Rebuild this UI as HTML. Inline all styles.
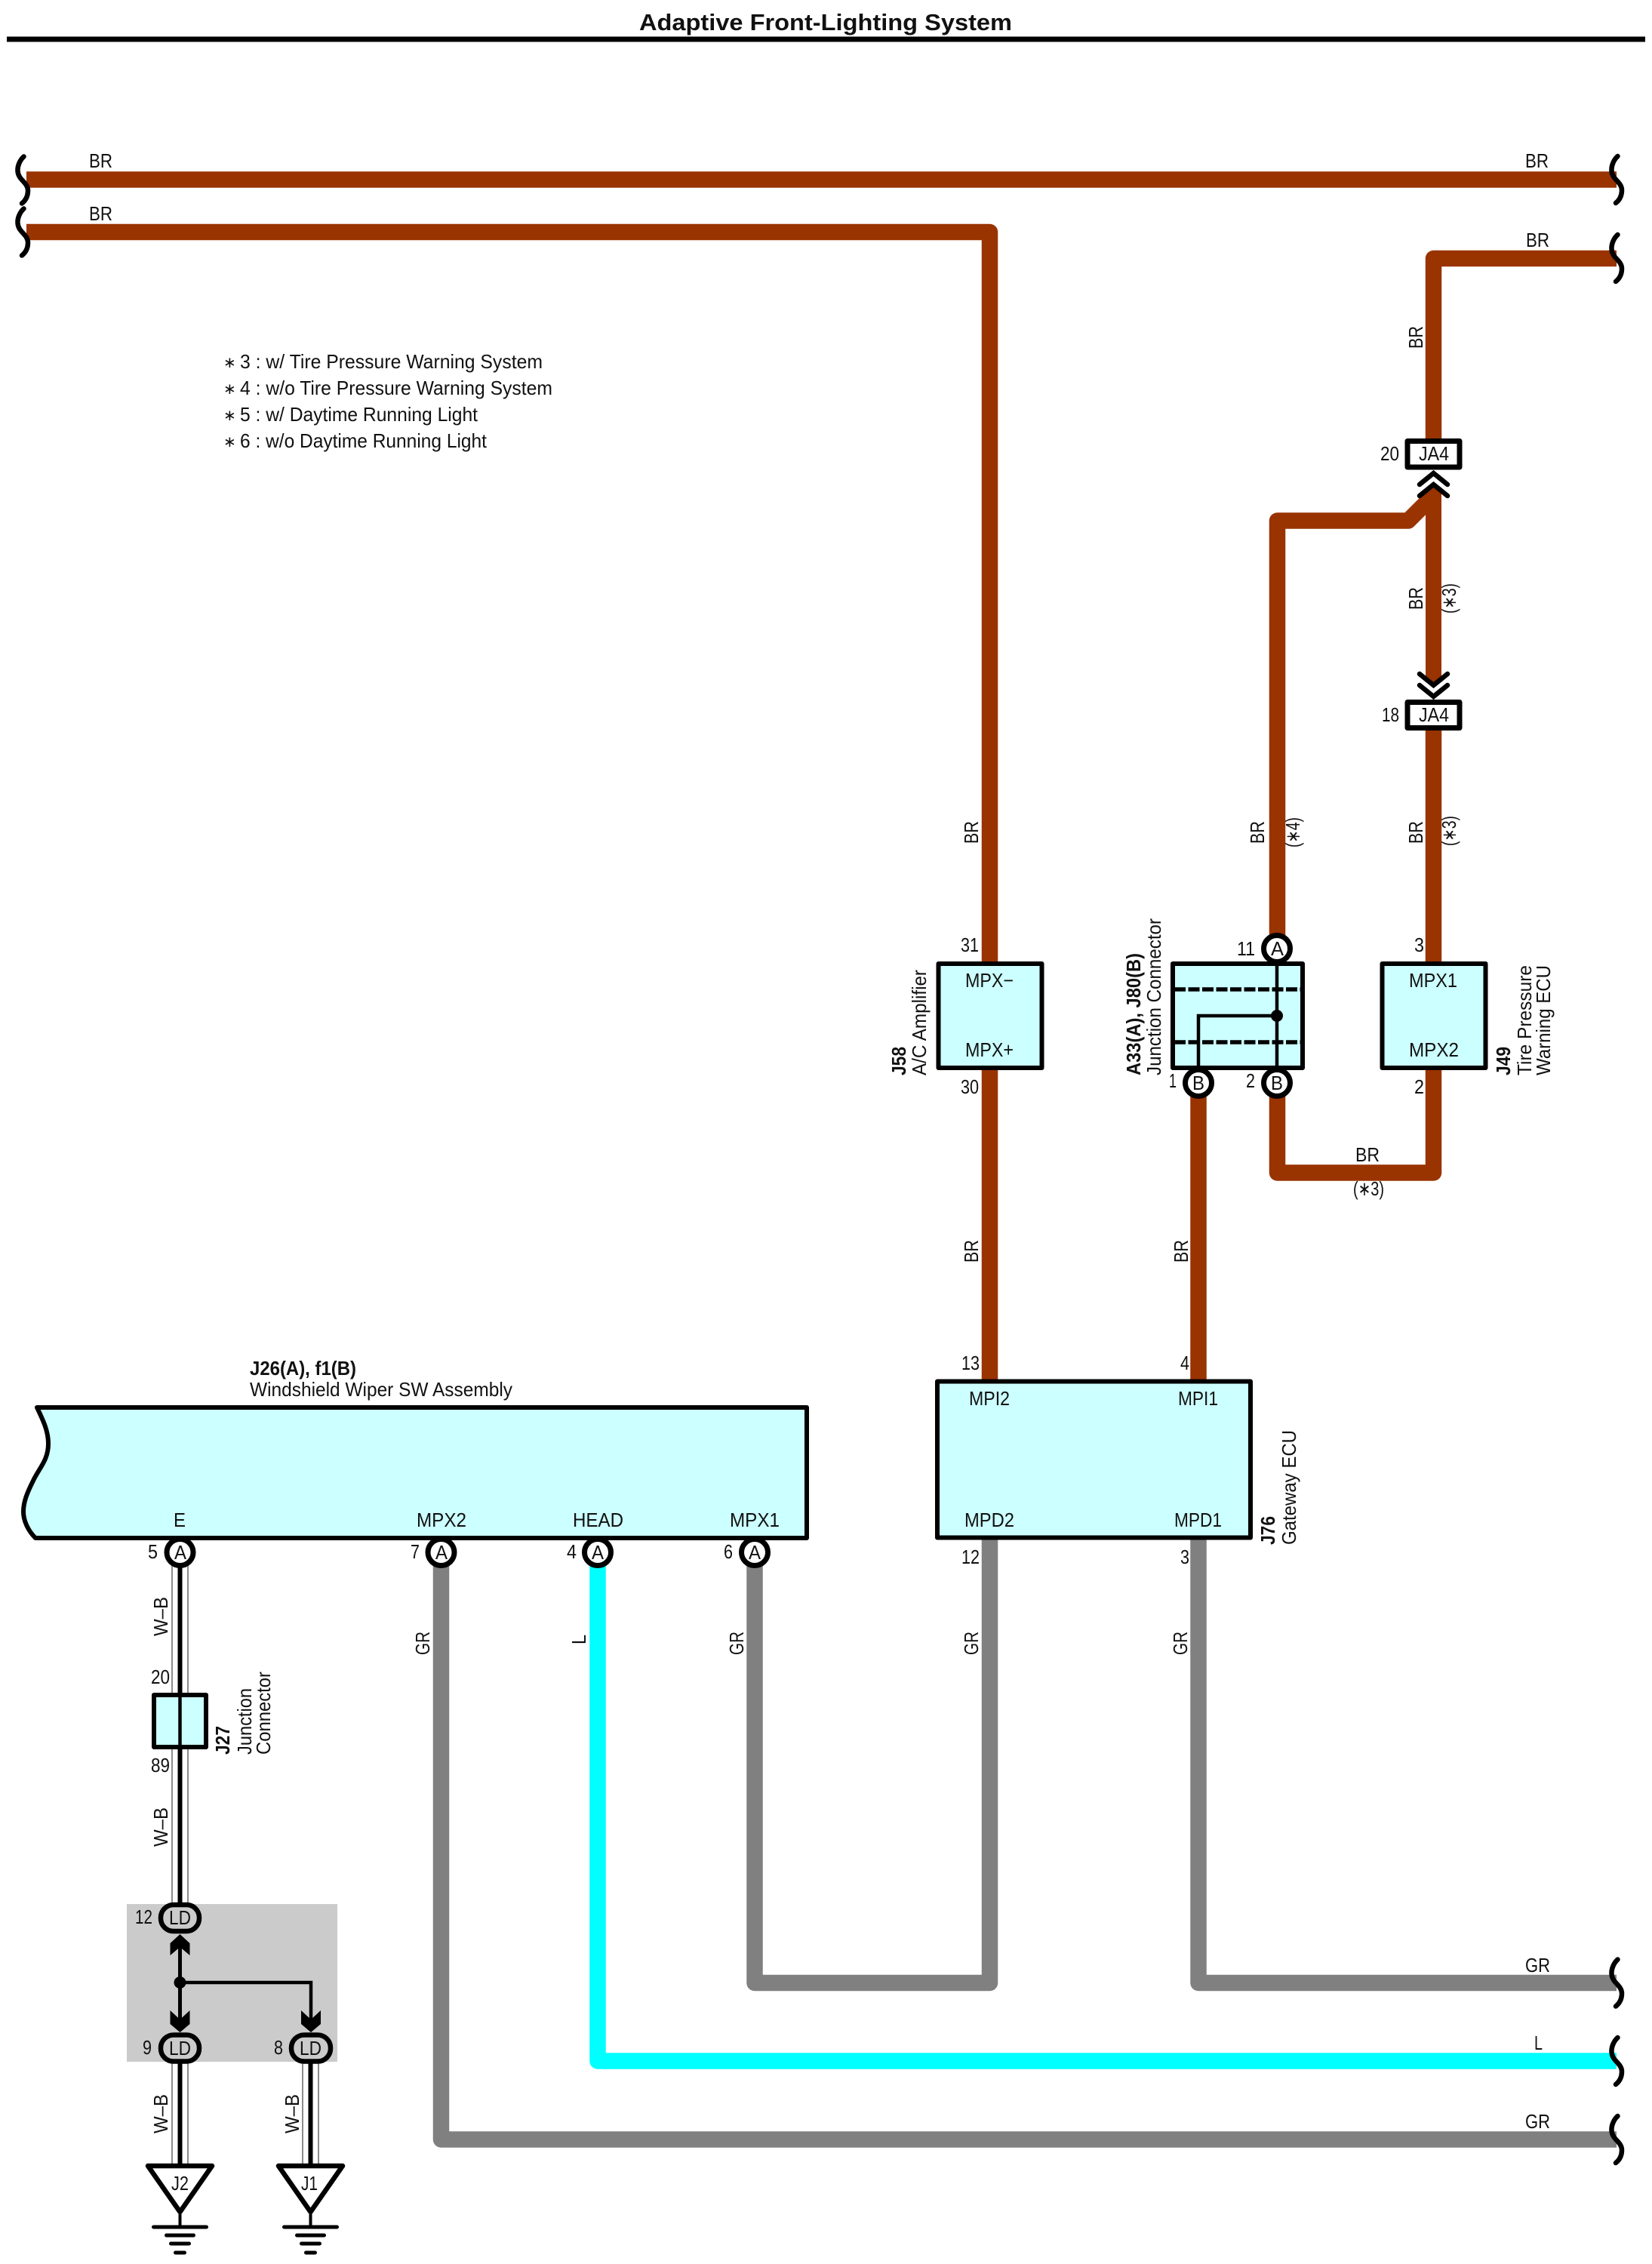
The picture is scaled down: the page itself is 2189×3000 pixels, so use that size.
<!DOCTYPE html>
<html><head><meta charset="utf-8"><title>Adaptive Front-Lighting System</title>
<style>
html,body{margin:0;padding:0;background:#fff}
svg{display:block}
text{font-family:"Liberation Sans",sans-serif;font-size:26px;fill:#111}
.b{font-weight:bold}
.w{fill:none;stroke-width:21.500;stroke-linejoin:round;stroke-linecap:butt}
.br{stroke:#993300}.gr{stroke:#808080}.cy{stroke:#00ffff}
.box{fill:#ccffff;stroke:#000;stroke-width:6;stroke-linejoin:round}
.pin{fill:#fff;stroke:#000;stroke-width:7}
.sq{fill:none;stroke:#000;stroke-width:6.500;stroke-linecap:round}
.bk{fill:none;stroke:#000}
</style></head><body>
<svg xmlns="http://www.w3.org/2000/svg" width="2189" height="3000" viewBox="0 0 2189 3000">
<defs>
<path id="sq" class="sq" d="M1.500,-31 C-4,-26 -7,-18 -6.500,-12 C-6,0 7,3 7,14 C7,21 4,27 -1,31"/>
<g id="gnd">
<path class="bk" stroke-width="4" d="M0,-16V0"/>
<path class="bk" stroke-width="5" stroke-linecap="round" d="M-35,1H35M-18,12H18M-12,23H12M-6,35H6"/>
</g>
</defs>

<!-- title -->
<text class="b" x="847" y="40" style="font-size:31px" textLength="494" lengthAdjust="spacingAndGlyphs">Adaptive Front-Lighting System</text>
<rect x="9" y="48.500" width="2171" height="7" fill="#000"/>

<!-- wires -->
<path class="w br" d="M35,238H2142"/>
<path class="w br" d="M35,307.500H1311.500V1274"/>
<path class="w br" d="M2142,342.500H1899.500V581"/>
<path class="w br" d="M1692.500,1240V690H1866L1897,659"/>
<polygon fill="#993300" points="1889,652 1899.500,642 1910,652 1910,899 1899.500,907 1889,899"/>
<path class="w br" d="M1899.500,965V1274"/>
<path class="w br" d="M1311.500,1418V1828"/>
<path class="w br" d="M1588,1452V1828"/>
<path class="w br" d="M1692.500,1452V1554H1899.500V1418"/>
<path class="w gr" d="M1000,2072V2627.500H1311.500V2040"/>
<path class="w gr" d="M1588,2040V2627.500H2142"/>
<path class="w cy" d="M792,2072V2731H2142"/>
<path class="w gr" d="M584.500,2072V2835H2142"/>

<!-- squiggles -->
<use href="#sq" x="30" y="238.500"/><use href="#sq" x="30" y="307.500"/>
<use href="#sq" x="2142" y="238"/><use href="#sq" x="2142" y="342"/>
<use href="#sq" x="2142" y="2627.500"/><use href="#sq" x="2142" y="2731"/><use href="#sq" x="2142" y="2835"/>

<!-- top labels -->
<text x="118" y="222" textLength="31" lengthAdjust="spacingAndGlyphs">BR</text>
<text x="118" y="292" textLength="31" lengthAdjust="spacingAndGlyphs">BR</text>
<text x="2021" y="222" textLength="31" lengthAdjust="spacingAndGlyphs">BR</text>
<text x="2022" y="327" textLength="31" lengthAdjust="spacingAndGlyphs">BR</text>

<!-- legend -->
<text x="296" y="487" style="font-size:20px">∗</text><text x="318" y="488" textLength="401" lengthAdjust="spacingAndGlyphs">3 : w/ Tire Pressure Warning System</text>
<text x="296" y="522" style="font-size:20px">∗</text><text x="318" y="523" textLength="414" lengthAdjust="spacingAndGlyphs">4 : w/o Tire Pressure Warning System</text>
<text x="296" y="557" style="font-size:20px">∗</text><text x="318" y="558" textLength="315" lengthAdjust="spacingAndGlyphs">5 : w/ Daytime Running Light</text>
<text x="296" y="592" style="font-size:20px">∗</text><text x="318" y="593" textLength="327" lengthAdjust="spacingAndGlyphs">6 : w/o Daytime Running Light</text>

<!-- JA4 connectors -->
<rect x="1865" y="584.500" width="69" height="34.500" fill="#fff" stroke="#000" stroke-width="7" stroke-linejoin="round"/>
<text x="1880" y="610" textLength="40" lengthAdjust="spacingAndGlyphs">JA4</text>
<text x="1829" y="610" textLength="25" lengthAdjust="spacingAndGlyphs">20</text>
<rect x="1865" y="930.500" width="69" height="34" fill="#fff" stroke="#000" stroke-width="7" stroke-linejoin="round"/>
<text x="1880" y="956" textLength="40" lengthAdjust="spacingAndGlyphs">JA4</text>
<text x="1831" y="956" textLength="23" lengthAdjust="spacingAndGlyphs">18</text>
<path class="bk" stroke-width="6.500" stroke-linecap="round" d="M1881,642L1899.500,627L1918,642M1881,657L1899.500,642L1918,657"/>
<path class="bk" stroke-width="6.500" stroke-linecap="round" d="M1881,893L1899.500,908L1918,893M1881,908L1899.500,923L1918,908"/>

<!-- rotated BR labels -->
<text transform="translate(1885,462) rotate(-90)" textLength="30" lengthAdjust="spacingAndGlyphs">BR</text>
<text transform="translate(1885,808) rotate(-90)" textLength="30" lengthAdjust="spacingAndGlyphs">BR</text>
<text transform="translate(1929,813) rotate(-90)" textLength="40" lengthAdjust="spacingAndGlyphs">(∗3)</text>
<text transform="translate(1885,1118) rotate(-90)" textLength="30" lengthAdjust="spacingAndGlyphs">BR</text>
<text transform="translate(1929,1121) rotate(-90)" textLength="40" lengthAdjust="spacingAndGlyphs">(∗3)</text>
<text transform="translate(1675,1118) rotate(-90)" textLength="30" lengthAdjust="spacingAndGlyphs">BR</text>
<text transform="translate(1722,1123) rotate(-90)" textLength="40" lengthAdjust="spacingAndGlyphs">(∗4)</text>
<text transform="translate(1296,1118) rotate(-90)" textLength="30" lengthAdjust="spacingAndGlyphs">BR</text>
<text transform="translate(1296,1673) rotate(-90)" textLength="30" lengthAdjust="spacingAndGlyphs">BR</text>
<text transform="translate(1574,1673) rotate(-90)" textLength="30" lengthAdjust="spacingAndGlyphs">BR</text>
<text x="1796" y="1539" textLength="32" lengthAdjust="spacingAndGlyphs">BR</text>
<text x="1793" y="1584" textLength="41" lengthAdjust="spacingAndGlyphs">(∗3)</text>

<!-- J58 -->
<rect class="box" x="1243.500" y="1277" width="137" height="138"/>
<text x="1279" y="1308" textLength="64" lengthAdjust="spacingAndGlyphs">MPX−</text>
<text x="1279" y="1400" textLength="64" lengthAdjust="spacingAndGlyphs">MPX+</text>
<text x="1273" y="1261" textLength="24" lengthAdjust="spacingAndGlyphs">31</text>
<text x="1273" y="1449" textLength="24" lengthAdjust="spacingAndGlyphs">30</text>
<text class="b" transform="translate(1200,1425) rotate(-90)" textLength="38" lengthAdjust="spacingAndGlyphs">J58</text>
<text transform="translate(1227,1425) rotate(-90)" textLength="140" lengthAdjust="spacingAndGlyphs">A/C Amplifier</text>

<!-- Junction connector -->
<rect class="box" x="1554" y="1277" width="172" height="138"/>
<path class="bk" stroke-width="5.500" stroke-dasharray="15 3.500" d="M1556,1311H1724M1556,1381H1724"/>
<path class="bk" stroke-width="4.500" d="M1692,1277V1415M1588,1415V1346H1692"/>
<circle cx="1692" cy="1346" r="8" fill="#000"/>
<circle class="pin" cx="1692" cy="1257" r="17.500"/>
<circle class="pin" cx="1588" cy="1435" r="17.500"/>
<circle class="pin" cx="1692" cy="1435" r="17.500"/>
<path class="bk" stroke-width="4.500" d="M1692,1274V1280"/>
<text x="1684" y="1266" textLength="17" lengthAdjust="spacingAndGlyphs">A</text>
<text x="1580" y="1444" textLength="16" lengthAdjust="spacingAndGlyphs">B</text>
<text x="1684" y="1444" textLength="16" lengthAdjust="spacingAndGlyphs">B</text>
<text x="1639" y="1266" textLength="24" lengthAdjust="spacingAndGlyphs">11</text>
<text x="1549" y="1441" textLength="10" lengthAdjust="spacingAndGlyphs">1</text>
<text x="1651" y="1441" textLength="12" lengthAdjust="spacingAndGlyphs">2</text>
<text class="b" transform="translate(1511,1425) rotate(-90)" textLength="162" lengthAdjust="spacingAndGlyphs">A33(A), J80(B)</text>
<text transform="translate(1538,1425) rotate(-90)" textLength="208" lengthAdjust="spacingAndGlyphs">Junction Connector</text>

<!-- J49 -->
<rect class="box" x="1831.500" y="1277" width="137" height="138"/>
<text x="1867" y="1308" textLength="64" lengthAdjust="spacingAndGlyphs">MPX1</text>
<text x="1867" y="1400" textLength="66" lengthAdjust="spacingAndGlyphs">MPX2</text>
<text x="1874" y="1261" textLength="13" lengthAdjust="spacingAndGlyphs">3</text>
<text x="1874" y="1449" textLength="13" lengthAdjust="spacingAndGlyphs">2</text>
<text class="b" transform="translate(2001,1425) rotate(-90)" textLength="38" lengthAdjust="spacingAndGlyphs">J49</text>
<text transform="translate(2029,1425) rotate(-90)" textLength="146" lengthAdjust="spacingAndGlyphs">Tire Pressure</text>
<text transform="translate(2054,1425) rotate(-90)" textLength="146" lengthAdjust="spacingAndGlyphs">Warning ECU</text>

<!-- J76 Gateway -->
<rect class="box" x="1242" y="1830.500" width="415" height="207"/>
<text x="1284" y="1862" textLength="54" lengthAdjust="spacingAndGlyphs">MPI2</text>
<text x="1561" y="1862" textLength="53" lengthAdjust="spacingAndGlyphs">MPI1</text>
<text x="1278" y="2023" textLength="66" lengthAdjust="spacingAndGlyphs">MPD2</text>
<text x="1556" y="2023" textLength="63" lengthAdjust="spacingAndGlyphs">MPD1</text>
<text x="1274" y="1815" textLength="24" lengthAdjust="spacingAndGlyphs">13</text>
<text x="1564" y="1815" textLength="12" lengthAdjust="spacingAndGlyphs">4</text>
<text x="1274" y="2072" textLength="24" lengthAdjust="spacingAndGlyphs">12</text>
<text x="1564" y="2072" textLength="12" lengthAdjust="spacingAndGlyphs">3</text>
<text class="b" transform="translate(1689,2047) rotate(-90)" textLength="38" lengthAdjust="spacingAndGlyphs">J76</text>
<text transform="translate(1717,2047) rotate(-90)" textLength="152" lengthAdjust="spacingAndGlyphs">Gateway ECU</text>

<!-- Wiper SW assembly -->
<text class="b" x="331" y="1822" textLength="141" lengthAdjust="spacingAndGlyphs">J26(A), f1(B)</text>
<text x="331" y="1850" textLength="348" lengthAdjust="spacingAndGlyphs">Windshield Wiper SW Assembly</text>
<path class="box" d="M49,1865H1069V2038H47C37,2028 31,2015 31,2003C31,1990 36,1978 44,1962C52,1945 64,1935 64,1913C64,1895 56,1880 49,1865Z"/>
<text x="230" y="2023" textLength="16" lengthAdjust="spacingAndGlyphs">E</text>
<text x="552" y="2023" textLength="66" lengthAdjust="spacingAndGlyphs">MPX2</text>
<text x="759" y="2023" textLength="67" lengthAdjust="spacingAndGlyphs">HEAD</text>
<text x="967" y="2023" textLength="66" lengthAdjust="spacingAndGlyphs">MPX1</text>

<!-- W-B wires -->
<g>
<rect x="228" y="2072" width="21" height="450" fill="#fff" stroke="#666" stroke-width="1.500"/>
<rect x="235.500" y="2072" width="6" height="450" fill="#000"/>
<rect x="228" y="2725" width="21" height="146" fill="#fff" stroke="#666" stroke-width="1.500"/>
<rect x="235.500" y="2725" width="6" height="146" fill="#000"/>
<rect x="401" y="2725" width="21" height="146" fill="#fff" stroke="#666" stroke-width="1.500"/>
<rect x="408.500" y="2725" width="6" height="146" fill="#000"/>
</g>

<!-- pins on assembly -->
<circle class="pin" cx="238.500" cy="2057" r="17.500"/>
<circle class="pin" cx="584.500" cy="2057" r="17.500"/>
<circle class="pin" cx="792" cy="2057" r="17.500"/>
<circle class="pin" cx="1000" cy="2057" r="17.500"/>
<text x="231" y="2066" textLength="16" lengthAdjust="spacingAndGlyphs">A</text>
<text x="577" y="2066" textLength="16" lengthAdjust="spacingAndGlyphs">A</text>
<text x="784" y="2066" textLength="16" lengthAdjust="spacingAndGlyphs">A</text>
<text x="992" y="2066" textLength="16" lengthAdjust="spacingAndGlyphs">A</text>
<text x="196" y="2065" textLength="13" lengthAdjust="spacingAndGlyphs">5</text>
<text x="544" y="2065" textLength="12" lengthAdjust="spacingAndGlyphs">7</text>
<text x="751" y="2065" textLength="13" lengthAdjust="spacingAndGlyphs">4</text>
<text x="959" y="2065" textLength="12" lengthAdjust="spacingAndGlyphs">6</text>

<!-- wire colour labels lower -->
<text transform="translate(569,2193) rotate(-90)" textLength="31" lengthAdjust="spacingAndGlyphs">GR</text>
<text transform="translate(985,2193) rotate(-90)" textLength="31" lengthAdjust="spacingAndGlyphs">GR</text>
<text transform="translate(776,2179) rotate(-90)" textLength="13" lengthAdjust="spacingAndGlyphs">L</text>
<text transform="translate(1296,2193) rotate(-90)" textLength="31" lengthAdjust="spacingAndGlyphs">GR</text>
<text transform="translate(1573,2193) rotate(-90)" textLength="31" lengthAdjust="spacingAndGlyphs">GR</text>
<text x="2021" y="2613" textLength="33" lengthAdjust="spacingAndGlyphs">GR</text>
<text x="2033" y="2716" textLength="11" lengthAdjust="spacingAndGlyphs">L</text>
<text x="2021" y="2820" textLength="33" lengthAdjust="spacingAndGlyphs">GR</text>
<text transform="translate(222,2168) rotate(-90)" textLength="52" lengthAdjust="spacingAndGlyphs">W–B</text>
<text transform="translate(222,2447) rotate(-90)" textLength="52" lengthAdjust="spacingAndGlyphs">W–B</text>
<text transform="translate(222,2827) rotate(-90)" textLength="52" lengthAdjust="spacingAndGlyphs">W–B</text>
<text transform="translate(396,2827) rotate(-90)" textLength="52" lengthAdjust="spacingAndGlyphs">W–B</text>

<!-- J27 -->
<rect class="box" x="204" y="2246" width="69" height="69"/>
<path class="bk" stroke-width="4.500" d="M238.500,2246V2315"/>
<text x="200" y="2231" textLength="25" lengthAdjust="spacingAndGlyphs">20</text>
<text x="200" y="2348" textLength="25" lengthAdjust="spacingAndGlyphs">89</text>
<text class="b" transform="translate(304,2325) rotate(-90)" textLength="38" lengthAdjust="spacingAndGlyphs">J27</text>
<text transform="translate(333,2325) rotate(-90)" textLength="88" lengthAdjust="spacingAndGlyphs">Junction</text>
<text transform="translate(358,2325) rotate(-90)" textLength="110" lengthAdjust="spacingAndGlyphs">Connector</text>

<!-- Grey LD block -->
<rect x="168" y="2523" width="279" height="209" fill="#cbcbcb"/>
<path class="bk" stroke-width="5" d="M238.500,2580V2676"/>
<path class="bk" stroke-width="4.500" d="M238.500,2627H412V2676"/>
<circle cx="238.500" cy="2627" r="8" fill="#000"/>
<polygon fill="#000" points="238.500,2563 251.500,2575 251.500,2591 238.500,2580 225.500,2591 225.500,2575"/>
<polygon fill="#000" points="238.500,2693 251.500,2682 251.500,2664 238.500,2676 225.500,2664 225.500,2682"/>
<polygon fill="#000" points="412,2693 425,2682 425,2664 412,2676 399,2664 399,2682"/>
<rect x="213" y="2524" width="51" height="35" rx="17" ry="17" fill="#cbcbcb" stroke="#000" stroke-width="6.500"/>
<rect x="213" y="2696.500" width="51" height="35" rx="17" ry="17" fill="#cbcbcb" stroke="#000" stroke-width="6.500"/>
<rect x="386" y="2696.500" width="52" height="35" rx="17" ry="17" fill="#cbcbcb" stroke="#000" stroke-width="6.500"/>
<text x="224" y="2550" textLength="29" lengthAdjust="spacingAndGlyphs">LD</text>
<text x="224" y="2723" textLength="29" lengthAdjust="spacingAndGlyphs">LD</text>
<text x="397" y="2723" textLength="29" lengthAdjust="spacingAndGlyphs">LD</text>
<text x="179" y="2549" textLength="23" lengthAdjust="spacingAndGlyphs">12</text>
<text x="189" y="2722" textLength="12" lengthAdjust="spacingAndGlyphs">9</text>
<text x="363" y="2722" textLength="12" lengthAdjust="spacingAndGlyphs">8</text>

<!-- grounds -->
<polygon points="196,2870 281,2870 238.500,2931" fill="#fff" stroke="#000" stroke-width="6.500" stroke-linejoin="round"/>
<polygon points="369,2870 454,2870 411.500,2931" fill="#fff" stroke="#000" stroke-width="6.500" stroke-linejoin="round"/>
<text x="227" y="2902" textLength="23" lengthAdjust="spacingAndGlyphs">J2</text>
<text x="399" y="2902" textLength="22" lengthAdjust="spacingAndGlyphs">J1</text>
<use href="#gnd" x="238.500" y="2950"/>
<use href="#gnd" x="411.500" y="2950"/>
</svg>
</body></html>
